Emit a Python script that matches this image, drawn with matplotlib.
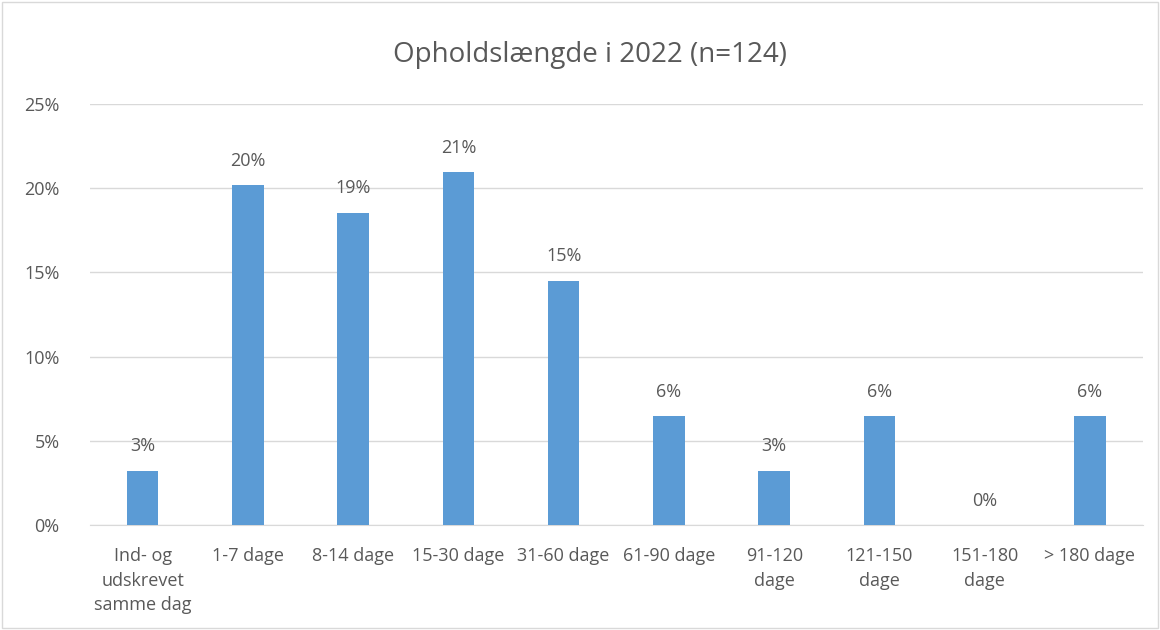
import matplotlib
matplotlib.use("Agg")
import matplotlib.pyplot as plt
from matplotlib.patches import Rectangle

categories = ["Ind- og\nudskrevet\nsamme dag", "1-7 dage", "8-14 dage", "15-30 dage", "31-60 dage",
              "61-90 dage", "91-120\ndage", "121-150\ndage", "151-180\ndage", "> 180 dage"]
counts = [4, 25, 23, 26, 18, 8, 4, 8, 0, 8]
n_total = 124
values = [c / n_total * 100 for c in counts]
yticks = [0, 5, 10, 15, 20, 25]
title = "Opholdslængde i 2022 (n=124)"

plt.rcParams['font.family'] = ['Open Sans', 'DejaVu Sans']
txt = "#595959"

fig = plt.figure(figsize=(11.6, 6.3), dpi=100)
ax = fig.add_axes([0.0776, 0.1667, 0.9074, 0.6683])
x = list(range(len(categories)))
ax.bar(x, values, width=0.3, color="#5b9bd5", zorder=3)
for xi, v in zip(x, values):
    ax.text(xi, v + 0.9, f"{round(v):.0f}%", ha="center", va="bottom", fontsize=13, color=txt)

ax.set_ylim(0, 25)
ax.set_xlim(-0.5, len(categories) - 0.5)
ax.set_yticks(yticks)
ax.set_yticklabels([f"{t}%" for t in yticks], fontsize=13, color=txt)
ax.set_xticks(x)
ax.set_xticklabels(categories, fontsize=13, color=txt, va="top", linespacing=1.45)
ax.tick_params(axis="x", length=0, pad=16)
ax.tick_params(axis="y", length=0, pad=22)
ax.yaxis.grid(True, color="#d9d9d9", linewidth=1)
ax.set_axisbelow(True)
for s in ["top", "right", "left"]:
    ax.spines[s].set_visible(False)
ax.spines["bottom"].set_color("#d9d9d9")
fig.text(0.5086, 0.912, title, fontsize=20, color=txt, ha="center", va="center")

fig.patches.append(Rectangle((0.002, 0.003), 0.996, 0.994, transform=fig.transFigure,
                             fill=False, edgecolor="#d9d9d9", linewidth=1))
fig.savefig("out.png", dpi=100)
